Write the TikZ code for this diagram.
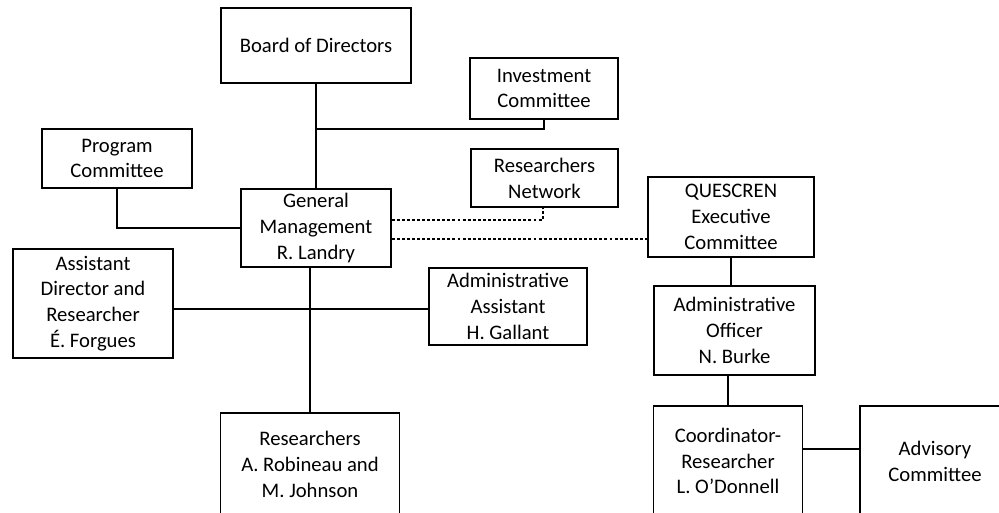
\documentclass[tikz,border=0pt]{standalone}
\usepackage{fontspec}
\setmainfont{Carlito}
\begin{document}
\begin{tikzpicture}[x=0.75pt, y=-0.75pt,
    box/.style={draw, line width=1pt, inner sep=0pt, align=center,
      font=\fontsize{15.5}{19.4}\selectfont},
    link/.style={line width=1pt},
    dots/.style={line width=1pt, dash pattern=on 2.2pt off 1.6pt}
    ]
    \useasboundingbox (0,0) rectangle (999,512);
    \clip (0,0) rectangle (999,512);
    % boxes
    \node[box, minimum width=142.5pt, minimum height=56.25pt] (board) at (316,45.5) {Board of Directors};
    \node[box, minimum width=111pt, minimum height=45.75pt] (invest) at (544,88.5) {Investment\\Committee};
    \node[box, minimum width=112.5pt, minimum height=44.25pt] (program) at (117,158.5) {Program\\Committee};
    \node[box, minimum width=112.5pt, minimum height=58.5pt] (gm) at (316,228) {General\\Management\\R. Landry};
    \node[box, minimum width=110.25pt, minimum height=43.5pt] (network) at (544.5,178) {Researchers\\Network};
    \node[box, minimum width=124.5pt, minimum height=60pt] (quescren) at (731,217) {QUESCREN\\Executive\\Committee};
    \node[box, minimum width=120pt, minimum height=81.75pt] (assistdir) at (93,303.5) {Assistant\\Director and\\Researcher\\É. Forgues};
    \node[box, minimum width=118.5pt, minimum height=57.75pt] (adminasst) at (508,306.5) {Administrative\\Assistant\\H. Gallant};
    \node[box, minimum width=134.25pt, minimum height=77.25pt] (researchers) at (310,464.5) {Researchers\\A. Robineau and\\M. Johnson};
    \node[box, minimum width=120.75pt, minimum height=66.75pt] (officer) at (734.5,330.5) {Administrative\\Officer\\N. Burke};
    \node[box, minimum width=111.75pt, minimum height=82.5pt] (coord) at (728,461) {Coordinator-\\Researcher\\L. O'Donnell};
    \node[box, minimum width=112.5pt, minimum height=82.5pt] (advisory) at (935,461) {Advisory\\Committee};
    % junctions
    \coordinate (jinvest) at (316,129);
    \coordinate (jmid) at (311,309);
    \coordinate (jnet) at (543,220);
    \coordinate (jques) at (600,239);
    \coordinate (jadv) at (830,449);
    % lines
    \draw[link] (board) -- (gm);
    \draw[link] (invest.south) |- (jinvest);
    \draw[link] (program.south) |- (gm.west);
    \draw[link] (researchers.north) -- (researchers.north |- gm.south);
    \draw[link] (assistdir.east |- jmid) -- (adminasst.west |- jmid);
    \draw[dots] (gm.east |- jnet) -- (jnet) -- (jnet |- network.south);
    \draw[dots] (gm.east |- jques) -- (quescren.west |- jques);
    \draw[link] (quescren.south) -- (quescren.south |- officer.north);
    \draw[link] (coord.north) -- (coord.north |- officer.south);
    \draw[link] (coord.east |- jadv) -- (advisory.west |- jadv);
\end{tikzpicture}
\end{document}
